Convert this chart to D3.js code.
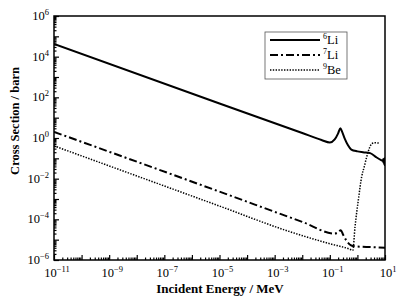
<!DOCTYPE html>
<html>
<head>
<meta charset="utf-8">
<script src="https://cdn.jsdelivr.net/npm/d3@7"></script>
<style>
  body { margin: 0; background: #fff; }
  svg text { font-family: "Liberation Serif", "DejaVu Serif", serif; fill: #000; }
</style>
</head>
<body>
<svg id="chart"></svg>
<script>
// energies in MeV, cross sections in barn
const li6Energy = [1e-11, 1e-5, 1e-2, 0.05, 0.1, 0.15, 0.2, 0.24, 0.28, 0.35, 0.45, 0.6, 1, 1.6, 2.9, 5, 7.5, 8.2, 8.5, 8.8, 9.1, 9.4, 9.7, 10];
const li6Sigma  = [4.2e4, 50, 1.75, 0.8, 0.6, 0.85, 1.7, 3.0, 2.0, 0.9, 0.45, 0.27, 0.22, 0.2, 0.18, 0.11, 0.08, 0.075, 0.09, 0.06, 0.095, 0.05, 0.1, 0.042];

const li7Energy = [1e-11, 1e-5, 1e-2, 0.15, 0.2, 0.25, 0.3, 0.4, 0.6, 1, 3, 10];
const li7Sigma  = [2.0, 2.3e-3, 7.5e-5, 2.0e-5, 2.3e-5, 2.9e-5, 1.8e-5, 9e-6, 5.2e-6, 4.6e-6, 4.3e-6, 4.0e-6];

const be9Energy = [1e-11, 1e-5, 3.6e-3, 0.1, 0.5, 0.68, 0.82, 1.08, 1.43, 1.78, 2.18, 2.8, 3.3, 4, 6.6];
const be9Sigma  = [0.41, 4.5e-4, 2.45e-5, 6.3e-6, 3.5e-6, 3.0e-6, 4.4e-5, 8.9e-4, 1.26e-2, 4.0e-2, 0.12, 0.35, 0.52, 0.58, 0.56];

const seriesNames = ["6Li", "7Li", "9Be"];
const xTickExps = [-11, -9, -7, -5, -3, -1, 1];
const yTickExps = [-6, -4, -2, 0, 2, 4, 6];
const xTitle = "Incident Energy / MeV";
const yTitle = "Cross Section / barn";

const FONT = '"Liberation Serif", "DejaVu Serif", serif';
const width = 398, height = 300;
const margin = {top: 16, right: 13, bottom: 40, left: 54};

const svg = d3.select("#chart").attr("width", width).attr("height", height);

const x = d3.scaleLog().domain([1e-11, 10]).range([margin.left, width - margin.right]);
const y = d3.scaleLog().domain([1e-6, 1e6]).range([height - margin.bottom, margin.top]);

// tick values: each decade major, 2..9 minor
function decades(lo, hi) {
  const majors = [], minors = [];
  for (let e = lo; e <= hi; e++) {
    majors.push(Math.pow(10, e));
    if (e < hi) for (let k = 2; k <= 9; k++) minors.push(k * Math.pow(10, e));
  }
  return {majors, minors};
}
const xt = decades(-11, 1), yt = decades(-6, 6);

const gx = svg.append("g").attr("transform", `translate(0,${height - margin.bottom})`);
gx.call(d3.axisBottom(x).tickValues(xt.majors).tickSize(-5).tickSizeOuter(0).tickFormat(""));
gx.append("g").call(d3.axisBottom(x).tickValues(xt.minors).tickSize(-2.5).tickSizeOuter(0).tickFormat(""));

const gy = svg.append("g").attr("transform", `translate(${margin.left},0)`);
gy.call(d3.axisLeft(y).tickValues(yt.majors).tickSize(-5).tickSizeOuter(0).tickFormat(""));
gy.append("g").call(d3.axisLeft(y).tickValues(yt.minors).tickSize(-2.5).tickSizeOuter(0).tickFormat(""));

svg.selectAll(".tick line").attr("stroke", "#000").attr("stroke-width", 1.2);
svg.selectAll(".domain").remove();

// tick labels with superscript exponents
function powLabel(sel, e) {
  sel.append("tspan").text("10");
  sel.append("tspan").attr("dy", -5).attr("font-size", 8.5).text(e < 0 ? "\u2212" + (-e) : e);
}
xTickExps.forEach(e => {
  const t = svg.append("text")
    .attr("font-family", FONT)
    .attr("x", x(Math.pow(10, e)) + 3)
    .attr("y", height - margin.bottom + 17)
    .attr("text-anchor", "middle")
    .attr("font-size", 12.5);
  powLabel(t, e);
});
yTickExps.forEach(e => {
  const t = svg.append("text")
    .attr("font-family", FONT)
    .attr("x", margin.left - 5)
    .attr("y", y(Math.pow(10, e)) + 4)
    .attr("text-anchor", "end")
    .attr("font-size", 12.5);
  powLabel(t, e);
});

// titles
svg.append("text")
  .attr("font-family", FONT)
  .attr("x", 220).attr("y", 293)
  .attr("text-anchor", "middle")
  .attr("font-size", 13).attr("font-weight", "bold")
  .text(xTitle);
svg.append("text")
  .attr("font-family", FONT)
  .attr("transform", "translate(19,121) rotate(-90)")
  .attr("text-anchor", "middle")
  .attr("font-size", 12.5).attr("font-weight", "bold")
  .text(yTitle);

// curves
svg.append("clipPath").attr("id", "clip")
  .append("rect")
  .attr("x", margin.left).attr("y", margin.top)
  .attr("width", width - margin.left - margin.right)
  .attr("height", height - margin.top - margin.bottom);

const line = d3.line()
  .x(d => x(d[0]))
  .y(d => y(d[1]))
  .curve(d3.curveMonotoneX);

const styles = [
  {dash: null, w: 2},
  {dash: "8,3,2,3", w: 2},
  {dash: "1.4,1.4", w: 1.5}
];
const series = [
  d3.zip(li6Energy, li6Sigma),
  d3.zip(li7Energy, li7Sigma),
  d3.zip(be9Energy, be9Sigma)
];

const plot = svg.append("g").attr("clip-path", "url(#clip)");
series.forEach((s, i) => {
  plot.append("path")
    .datum(s)
    .attr("d", line)
    .attr("fill", "none")
    .attr("stroke", "#000")
    .attr("stroke-width", styles[i].w)
    .attr("stroke-dasharray", styles[i].dash);
});

// frame
svg.append("rect")
  .attr("x", margin.left).attr("y", margin.top)
  .attr("width", width - margin.left - margin.right)
  .attr("height", height - margin.top - margin.bottom)
  .attr("fill", "none")
  .attr("stroke", "#000")
  .attr("stroke-width", 1.5);

// legend
const legend = svg.append("g").attr("transform", "translate(265,32)");
legend.append("rect")
  .attr("width", 82).attr("height", 47)
  .attr("fill", "#fff").attr("stroke", "#555").attr("stroke-width", 0.8);
seriesNames.forEach((name, i) => {
  const ly = 8 + i * 15;
  legend.append("line")
    .attr("x1", 5).attr("x2", 55).attr("y1", ly).attr("y2", ly)
    .attr("stroke", "#000")
    .attr("stroke-width", styles[i].w)
    .attr("stroke-dasharray", styles[i].dash);
  const t = legend.append("text").attr("font-family", FONT)
    .attr("x", 58).attr("y", ly + 4).attr("font-size", 12.5);
  const m = name.match(/^(\d+)(.*)$/);
  t.append("tspan").attr("dy", -5).attr("font-size", 8).text(m[1]);
  t.append("tspan").attr("dy", 5).text(m[2]);
});
</script>
</body>
</html>
